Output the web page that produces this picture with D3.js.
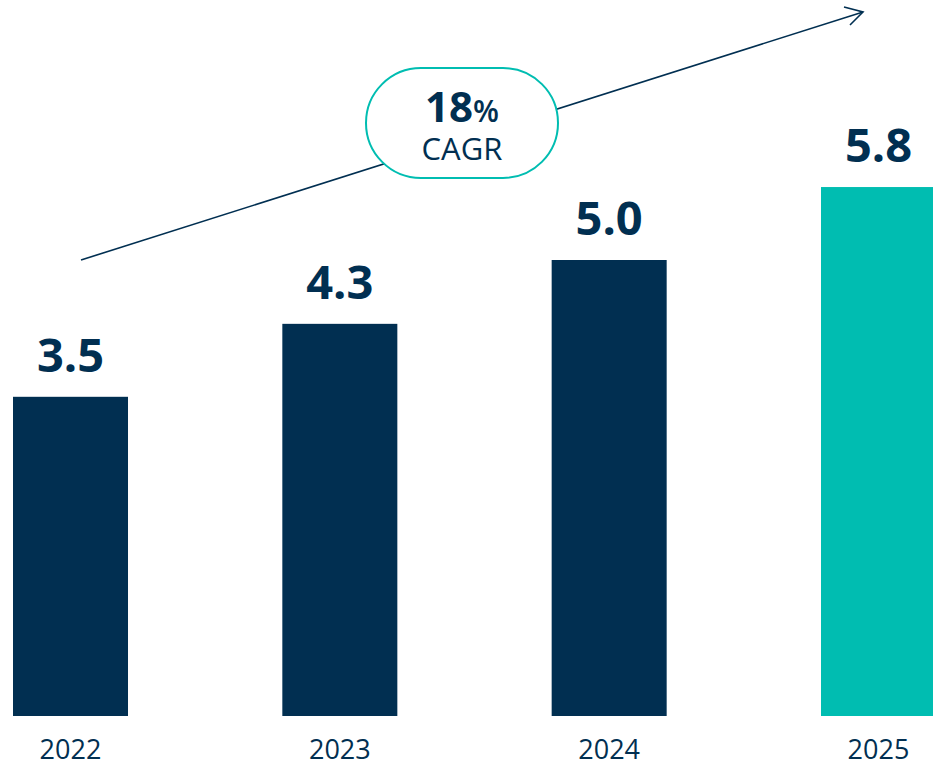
<!DOCTYPE html>
<html>
<head>
<meta charset="utf-8">
<script src="https://cdn.jsdelivr.net/npm/d3@7"></script>
<style>
  html, body { margin: 0; padding: 0; background: #ffffff; }
  svg { display: block; }
</style>
</head>
<body>
<script>
(function () {

  var years = ['2022', '2023', '2024', '2025']
  var values = [3.5, 4.3, 5.0, 5.8]
  var highlight = ['2025']
  var cagrValue = '18'
  var cagrUnit = '%'
  var cagrLabel = 'CAGR'

  var width = 933,
    height = 766

  var navy = '#012f51',
    teal = '#00bdb1',
    font = "'Open Sans', sans-serif"

  var data = years.map(function (y, i) {
    return { year: y, value: values[i] }
  })

  var svg = d3.select('body')
    .append('svg')
    .attr('width', width)
    .attr('height', height)

  var xScale = d3.scaleBand().domain(years).range([13, 936]).paddingInner(0.573).paddingOuter(0)
  var yScale = d3.scaleLinear().domain([0, 6]).range([716, 168.8])

  // bars
  svg.selectAll('rect.bar')
    .data(data)
    .enter().append('rect')
    .attr('class', 'bar')
    .attr('x', function (d) { return xScale(d.year) })
    .attr('width', xScale.bandwidth())
    .attr('y', function (d) { return yScale(d.value) })
    .attr('height', function (d) { return yScale(0) - yScale(d.value) })
    .attr('fill', function (d) { return highlight.indexOf(d.year) >= 0 ? teal : navy })

  // value labels
  svg.selectAll('text.value')
    .data(data)
    .enter().append('text')
    .attr('class', 'value')
    .attr('x', function (d) { return xScale(d.year) + xScale.bandwidth() / 2 })
    .attr('y', function (d) { return yScale(d.value) - 25 })
    .attr('text-anchor', 'middle')
    .attr('font-family', font)
    .attr('font-weight', 700)
    .attr('font-size', 47)
    .attr('fill', navy)
    .text(function (d) { return d3.format('.1f')(d.value) })

  // year labels
  svg.selectAll('text.year')
    .data(data)
    .enter().append('text')
    .attr('class', 'year')
    .attr('x', function (d) { return xScale(d.year) + xScale.bandwidth() / 2 })
    .attr('y', 759)
    .attr('text-anchor', 'middle')
    .attr('font-family', font)
    .attr('font-size', 27)
    .attr('fill', navy)
    .text(function (d) { return d.year })

  // growth arrow
  var arrow = svg.append('g')
  arrow.append('line')
    .attr('x1', 81).attr('y1', 260)
    .attr('x2', 863).attr('y2', 12)
    .attr('stroke', navy)
    .attr('stroke-width', 1.6)
  arrow.append('path')
    .attr('d', 'M844,7 L863,12 L850,25')
    .attr('fill', 'none')
    .attr('stroke', navy)
    .attr('stroke-width', 1.6)

  // CAGR pill
  var pill = svg.append('g').attr('transform', 'translate(462 123)')
  pill.append('rect')
    .attr('x', -96).attr('y', -55)
    .attr('width', 192).attr('height', 110)
    .attr('rx', 55).attr('ry', 55)
    .attr('fill', '#ffffff')
    .attr('stroke', teal)
    .attr('stroke-width', 2)

  var big = pill.append('text')
    .attr('x', 0).attr('y', -1)
    .attr('text-anchor', 'middle')
    .attr('font-family', font)
    .attr('fill', navy)
  big.append('tspan').attr('font-weight', 700).attr('font-size', 42).text(cagrValue)
  big.append('tspan').attr('font-weight', 600).attr('font-size', 30).text(cagrUnit)

  pill.append('text')
    .attr('x', 0).attr('y', 37)
    .attr('text-anchor', 'middle')
    .attr('font-family', font)
    .attr('font-size', 31)
    .attr('fill', navy)
    .text(cagrLabel)

}())
</script>
</body>
</html>
